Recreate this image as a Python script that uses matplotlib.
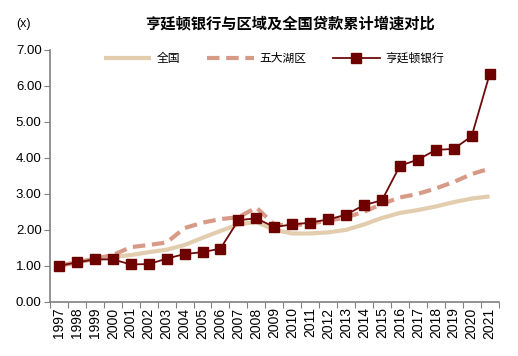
import numpy as np
import matplotlib
matplotlib.use("Agg")
import matplotlib.pyplot as plt
from matplotlib.ticker import FormatStrFormatter, FixedLocator

plt.rcParams['font.family'] = ['Liberation Sans', 'Noto Sans CJK SC', 'DejaVu Sans']

years = [str(y) for y in range(1997, 2022)]
national = [1.00, 1.10, 1.18, 1.25, 1.30, 1.38, 1.45, 1.58, 1.78, 1.97, 2.15, 2.22, 2.00,
            1.90, 1.90, 1.93, 2.00, 2.15, 2.33, 2.47, 2.55, 2.65, 2.77, 2.87, 2.93]
great_lakes = [1.00, 1.10, 1.20, 1.30, 1.52, 1.58, 1.65, 2.05, 2.20, 2.30, 2.35, 2.62, 2.15,
               2.12, 2.18, 2.25, 2.35, 2.50, 2.72, 2.90, 3.00, 3.15, 3.33, 3.55, 3.70]
huntington = [1.00, 1.10, 1.18, 1.18, 1.04, 1.05, 1.20, 1.33, 1.38, 1.48, 2.27, 2.32, 2.08,
              2.15, 2.20, 2.29, 2.42, 2.69, 2.82, 3.78, 3.95, 4.22, 4.25, 4.60, 6.32]

fig = plt.figure(figsize=(5.18, 3.56), dpi=100)
ax = fig.add_axes([0.0965, 0.152, 0.866, 0.708])

x = np.arange(len(years))
ax.plot(x, national, color='#E2CDAE', lw=3, label='全国', solid_capstyle='butt')
ax.plot(x, great_lakes, color='#D79A86', lw=3, ls=(0, (3, 1.6)), label='五大湖区')
ax.plot(x, huntington, color='#6E0A0A', lw=1.3, marker='s', ms=7.5,
        mfc='#6E0000', mec='#6E0000', label='亨廷顿银行')

ax.set_ylim(0, 7)
ax.set_yticks(np.arange(0, 7.01, 1))
ax.yaxis.set_major_formatter(FormatStrFormatter('%.2f'))
ax.set_xlim(-0.5, len(years) - 0.5)
ax.xaxis.set_major_locator(FixedLocator(np.arange(-0.5, len(years), 1)))
ax.xaxis.set_major_formatter(plt.NullFormatter())
ax.xaxis.set_minor_locator(FixedLocator(x))
ax.set_xticklabels(years, minor=True, rotation=90)
ax.tick_params(axis='x', which='minor', length=0, pad=4, labelsize=10)
ax.tick_params(axis='x', which='major', length=4, direction='out', color='#808080')
ax.tick_params(axis='y', length=4, direction='out', color='#808080', pad=2, labelsize=9.5)

for s in ['top', 'right']:
    ax.spines[s].set_visible(False)
for s in ['left', 'bottom']:
    ax.spines[s].set_color('#808080')
    ax.spines[s].set_linewidth(1.2)

ax.legend(loc='upper center', bbox_to_anchor=(0.5, 1.03), ncol=3, frameon=False,
          fontsize=8.5, handlelength=4, columnspacing=2.2, handletextpad=0.5)

fig.text(0.56, 0.932, '亨廷顿银行与区域及全国贷款累计增速对比', ha='center', va='center',
         fontsize=11, fontweight='bold')
fig.text(0.032, 0.932, '(x)', ha='left', va='center', fontsize=9)

fig.savefig('out.png', dpi=100)
